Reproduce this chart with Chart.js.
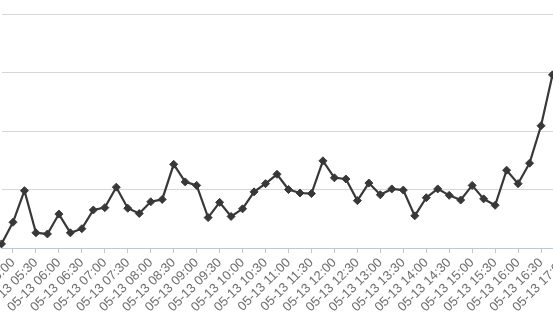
<!DOCTYPE html>
<html>
<head>
<meta charset="utf-8">
<script src="https://cdn.jsdelivr.net/npm/chart.js@4.4.1/dist/chart.umd.min.js"></script>
<style>
  html, body { margin: 0; padding: 0; background: #fff; overflow: hidden; }
  #wrap { position: relative; width: 553px; height: 317px; overflow: hidden; }
  #chart { position: absolute; left: 0; top: 0; }
</style>
</head>
<body>
<div id="wrap"><canvas id="chart" width="640" height="317"></canvas></div>
<script>
// ---------------- DATA ----------------
const timeLabels = [
  "05-13 04:45", "05-13 05:00", "05-13 05:15", "05-13 05:30", "05-13 05:45",
  "05-13 06:00", "05-13 06:15", "05-13 06:30", "05-13 06:45", "05-13 07:00",
  "05-13 07:15", "05-13 07:30", "05-13 07:45", "05-13 08:00", "05-13 08:15",
  "05-13 08:30", "05-13 08:45", "05-13 09:00", "05-13 09:15", "05-13 09:30",
  "05-13 09:45", "05-13 10:00", "05-13 10:15", "05-13 10:30", "05-13 10:45",
  "05-13 11:00", "05-13 11:15", "05-13 11:30", "05-13 11:45", "05-13 12:00",
  "05-13 12:15", "05-13 12:30", "05-13 12:45", "05-13 13:00", "05-13 13:15",
  "05-13 13:30", "05-13 13:45", "05-13 14:00", "05-13 14:15", "05-13 14:30",
  "05-13 14:45", "05-13 15:00", "05-13 15:15", "05-13 15:30", "05-13 15:45",
  "05-13 16:00", "05-13 16:15", "05-13 16:30", "05-13 16:45", "05-13 17:00"
];

const readings = [
  7, 44, 98, 26, 24, 58, 26, 33, 65, 69,
  104, 68, 59, 79, 83, 143, 113, 107, 52, 78,
  54, 67, 96, 110, 126, 100, 94, 93, 149, 120,
  118, 81, 111, 91, 101, 99, 55, 86, 101, 90,
  82, 107, 84, 73, 133, 110, 145, 209, 296, null
];

const yMin = 0;
const yMax = 400;
const yStep = 100;

// ---------------- CHART SETUP ----------------
const lineColor = "#383838";
const axisColor = "#b9c8d8";
const gridColor = "#d6d6d6";
const labelColor = "#6e6e6e";

const ctx = document.getElementById("chart").getContext("2d");
const readingsChart = new Chart(ctx, {
  type: "line",
  data: {
    labels: timeLabels,
    datasets: [{
      data: readings,
      borderColor: lineColor,
      backgroundColor: lineColor,
      borderWidth: 2.2,
      tension: 0,
      pointStyle: "rectRot",
      pointRadius: 4,
      pointBorderWidth: 1,
      pointBackgroundColor: lineColor,
      pointBorderColor: lineColor,
      spanGaps: false
    }]
  },
  options: {
    responsive: false,
    animation: false,
    layout: { autoPadding: false, padding: { left: 1.5, right: 76, top: 14, bottom: 0 } },
    plugins: { legend: { display: false }, tooltip: { enabled: false } },
    scales: {
      x: {
        grid: {
          display: true,
          drawOnChartArea: false,
          drawTicks: true,
          tickLength: 5,
          tickColor: axisColor
        },
        border: { display: true, color: axisColor, width: 1 },
        ticks: {
          autoSkip: false,
          minRotation: 45,
          maxRotation: 45,
          padding: 2,
          color: labelColor,
          font: { family: "'Liberation Sans', Arial, sans-serif", size: 13 }
        },
        // show only the half-hour labels
        afterBuildTicks: scale => {
          scale.ticks = scale.ticks.filter(t => t.value % 2 === 1);
        },
        afterFit: scale => {
          scale.height = 69;
          scale.paddingLeft = 0;
          scale.paddingRight = 0;
        }
      },
      y: {
        min: yMin,
        max: yMax,
        ticks: { display: false, stepSize: yStep },
        grid: { color: gridColor, drawTicks: false, lineWidth: 1 },
        border: { display: false },
        afterFit: scale => {
          scale.width = 0;
          scale.paddingTop = 0;
          scale.paddingBottom = 0;
        }
      }
    }
  }
});
</script>
</body>
</html>
